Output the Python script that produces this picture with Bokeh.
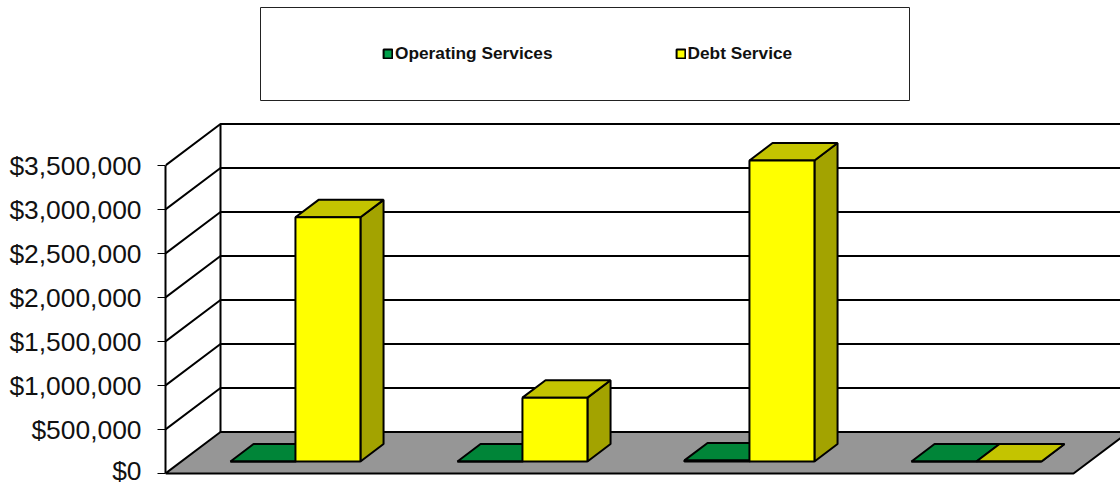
from bokeh.embed import file_html
from bokeh.resources import INLINE
from bokeh.plotting import figure
from bokeh.models import BoxAnnotation, ColumnDataSource, FixedTicker, Legend, LegendItem, Range1d

# ---- data ----
categories = [0, 1, 2, 3]
operating_services = [0, 0, 12000, 0]
debt_service = [2775000, 725000, 3420000, 0]
tick_values = [0, 500000, 1000000, 1500000, 2000000, 2500000, 3000000, 3500000]
tick_labels = ["$0", "$500,000", "$1,000,000", "$1,500,000", "$2,000,000",
               "$2,500,000", "$3,000,000", "$3,500,000"]
series_names = ["Operating Services", "Debt Service"]

# ---- style / layout ----
GREEN = ("#00A04A", "#008538", "#006A2C")   # front, top, side
YELLOW = ("#FFFF00", "#C4C400", "#A3A300")
FLOOR = "#969696"
W, H = 1120, 485
LEFT = 165                                  # frame offset inside the canvas
BASE_Y = 473                                # canvas row of the $0 tick
PX_PER_CAT = 227.0
PX_PER_USD = 44.0 / 500000.0
DX = 55.0 / PX_PER_CAT                      # depth offset of the back wall
DY = 41.5 / PX_PER_USD
GAP = 49.0 / PX_PER_CAT
BAR = 65.0 / PX_PER_CAT
D0, D1 = 0.29, 0.71                         # bar depth range in the floor
N = len(categories)
LW = 2
FONT = "Liberation Sans"
TICK_SIZE = "26.4px"

frame_w = W - LEFT

p = figure(width=W, height=H, output_backend="svg", toolbar_location=None,
           x_range=Range1d(0, frame_w / PX_PER_CAT),
           y_range=Range1d(-(H - BASE_Y) / PX_PER_USD, BASE_Y / PX_PER_USD),
           x_axis_location=None, y_axis_location="left",
           min_border_left=LEFT, min_border_bottom=0,
           min_border_top=0, min_border_right=0)
p.outline_line_color = None
p.grid.visible = False
p.background_fill_color = "white"

ax = p.yaxis[0]
ax.ticker = FixedTicker(ticks=tick_values)
ax.major_label_overrides = {v: t for v, t in zip(tick_values, tick_labels)}
ax.bounds = (tick_values[0], tick_values[-1])
ax.axis_line_color = "black"
ax.axis_line_width = LW
ax.major_tick_line_color = "black"
ax.major_tick_line_width = 1
ax.major_tick_out = 8
ax.major_tick_in = 0
ax.minor_tick_line_color = None
ax.major_label_standoff = 16
ax.major_label_text_font = FONT
ax.major_label_text_font_size = TICK_SIZE
ax.major_label_text_color = "#111111"


def proj(x, v, d):
    return x + d * DX, v + d * DY


# floor
fx, fy = zip(*[proj(0, 0, 0), proj(N, 0, 0), proj(N, 0, 1), proj(0, 0, 1)])
p.patch(list(fx), list(fy), fill_color=FLOOR, line_color="black", line_width=LW)

# walls and gridlines
top = tick_values[-1]
xs, ys = [], []
for v in tick_values[1:]:
    a, b = proj(0, v, 0), proj(0, v, 1)
    c = proj(N, v, 1)
    xs.append([a[0], b[0], c[0]])
    ys.append([a[1], b[1], c[1]])
a, b = proj(0, 0, 1), proj(0, top, 1)
xs.append([a[0], b[0]])
ys.append([a[1], b[1]])
p.multi_line(xs, ys, line_color="black", line_width=LW)


def faces(left, values, colors):
    """Top and side faces, then the front face as a vbar."""
    tops_x, tops_y, side_x, side_y = [], [], [], []
    for l, v in zip(left, values):
        r = l + BAR
        pts = [proj(l, v, D0), proj(r, v, D0), proj(r, v, D1), proj(l, v, D1)]
        tops_x.append([q[0] for q in pts])
        tops_y.append([q[1] for q in pts])
        pts = [proj(r, 0, D0), proj(r, v, D0), proj(r, v, D1), proj(r, 0, D1)]
        side_x.append([q[0] for q in pts])
        side_y.append([q[1] for q in pts])
    p.patches(side_x, side_y, fill_color=colors[2], line_color="black", line_width=LW)
    p.patches(tops_x, tops_y, fill_color=colors[1], line_color="black", line_width=LW)
    base = D0 * DY
    src = ColumnDataSource(dict(
        x=[l + BAR / 2 + D0 * DX for l in left],
        top=[base + v for v in values],
        bottom=[base] * len(values)))
    return p.vbar(x="x", top="top", bottom="bottom", width=BAR, source=src,
                  fill_color=colors[0], line_color="black", line_width=LW)


green_left = [c + GAP for c in categories]
yellow_left = [c + GAP + BAR for c in categories]
r_green = faces(green_left, operating_services, GREEN)
r_yellow = faces(yellow_left, debt_service, YELLOW)

# legend frame + legend
p.add_layout(BoxAnnotation(left=(260 - LEFT) / PX_PER_CAT, right=(909 - LEFT) / PX_PER_CAT,
                           bottom=(BASE_Y - 100) / PX_PER_USD, top=(BASE_Y - 7) / PX_PER_USD,
                           fill_color="white", fill_alpha=1,
                           line_color="#222222", line_alpha=1, line_width=1))
legend = Legend(items=[LegendItem(label=series_names[0], renderers=[r_green]),
                       LegendItem(label=series_names[1], renderers=[r_yellow])],
                orientation="horizontal", location=(217, 421),
                margin=0, padding=0, spacing=122, border_line_color=None,
                background_fill_alpha=0, glyph_width=11, glyph_height=11,
                label_standoff=2, label_text_font=FONT,
                label_text_font_style="bold", label_text_font_size="17.3px",
                label_text_color="#111111", label_height=12)
p.add_layout(legend)

open("out.html", "w").write(file_html(p, INLINE))
